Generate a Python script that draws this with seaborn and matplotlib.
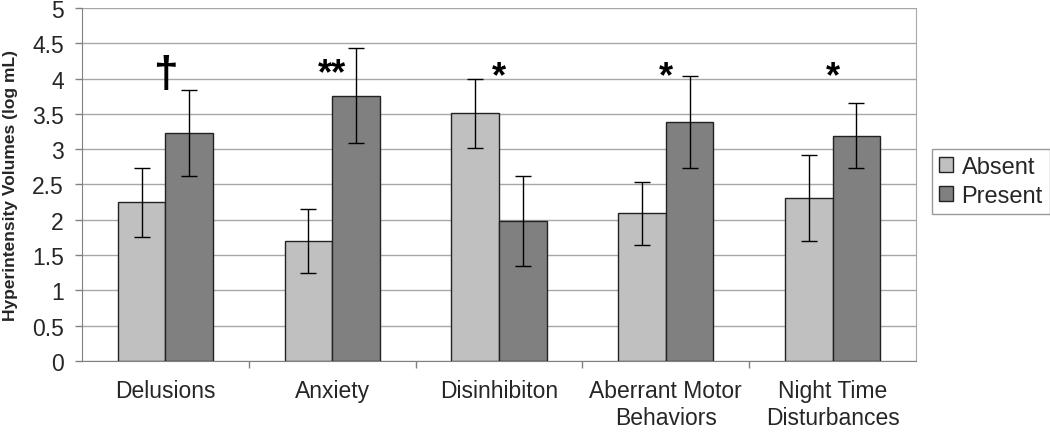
import matplotlib
matplotlib.use('Agg')
import matplotlib.pyplot as plt
from matplotlib.ticker import FuncFormatter, FixedLocator
import numpy as np
import pandas as pd
import seaborn as sns

# values
categories = ['Delusions', 'Anxiety', 'Disinhibiton', 'Aberrant Motor\nBehaviors', 'Night Time\nDisturbances']
absent_mean = [2.25, 1.70, 3.51, 2.09, 2.31]
absent_err = [0.49, 0.46, 0.49, 0.44, 0.61]
present_mean = [3.23, 3.76, 1.98, 3.38, 3.19]
present_err = [0.61, 0.67, 0.64, 0.65, 0.46]
marks = ['\u2020', '**', '*', '*', '*']
mark_y = [3.90, 3.94, 3.89, 3.89, 3.89]

groups = ['Absent', 'Present']
colors = {'Absent': '#c0c0c0', 'Present': '#808080'}

df = pd.DataFrame({
    'category': categories * 2,
    'group': ['Absent'] * len(categories) + ['Present'] * len(categories),
    'value': absent_mean + present_mean,
    'err': absent_err + present_err,
})

sns.set_style('white')
plt.rcParams['font.family'] = ['Liberation Sans', 'DejaVu Sans']

fig = plt.figure(figsize=(10.5, 4.35), dpi=100)
ax = fig.add_axes([82 / 1050, 1 - 362 / 435, 834 / 1050, 353 / 435])

sns.barplot(data=df, x='category', y='value', hue='group', order=categories, hue_order=groups,
            palette=colors, saturation=1, width=0.57, errorbar=None,
            edgecolor='#222222', linewidth=1.0, ax=ax, zorder=3)

# error bars at bar centres
for cont, g in zip(ax.containers, groups):
    sub = df[df.group == g].set_index('category').loc[categories]
    xs = [p.get_x() + p.get_width() / 2 for p in cont.patches]
    ax.errorbar(xs, sub['value'], yerr=sub['err'], fmt='none', ecolor='black',
                elinewidth=1.0, capsize=5.5, capthick=1.0, zorder=4)

for i, (m, y) in enumerate(zip(marks, mark_y)):
    size = 32 if m == '\u2020' else 26
    ax.text(i, y, m, ha='center', va='baseline', fontsize=size, fontweight='bold', color='black')

ax.set_ylim(0, 5)
ax.set_xlim(-0.5, len(categories) - 0.5)
ax.yaxis.set_major_locator(FixedLocator(np.arange(0, 5.01, 0.5)))
ax.yaxis.set_major_formatter(FuncFormatter(lambda v, p: f'{v:g}'))
ax.grid(axis='y', color='#a8a8a8', linewidth=1.0, zorder=0)
ax.set_axisbelow(True)

ax.tick_params(axis='y', which='major', direction='out', length=5, width=1, color='#808080',
               left=True, pad=8, labelsize=16.5)
ax.tick_params(axis='x', which='major', length=0, pad=13, labelsize=16.5)
ax.xaxis.set_minor_locator(FixedLocator(np.arange(0.5, len(categories) - 1, 1)))
ax.tick_params(axis='x', which='minor', direction='out', length=5, width=1, color='#808080', bottom=True)

for side in ['left', 'bottom']:
    ax.spines[side].set_color('#808080')
ax.spines['right'].set_color('#a8a8a8')
ax.spines['top'].set_visible(False)

ax.set_xlabel('')
ax.set_ylabel('Hyperintensity Volumes (log mL)', fontsize=12.5, fontweight='bold')
ax.yaxis.set_label_coords(-0.077, 0.5)

leg = ax.legend(loc='upper left', bbox_to_anchor=(932 / 1050, 1 - 150 / 435),
                bbox_transform=fig.transFigure, borderaxespad=0, fontsize=17,
                fancybox=False, frameon=True, handlelength=0.6, handleheight=0.6,
                handletextpad=0.35, labelspacing=0.3, borderpad=0.3)
leg.get_frame().set_edgecolor('#808080')
leg.get_frame().set_linewidth(1.0)
for h in leg.legend_handles:
    h.set_edgecolor('#222222')

fig.savefig('out.png', dpi=100)
